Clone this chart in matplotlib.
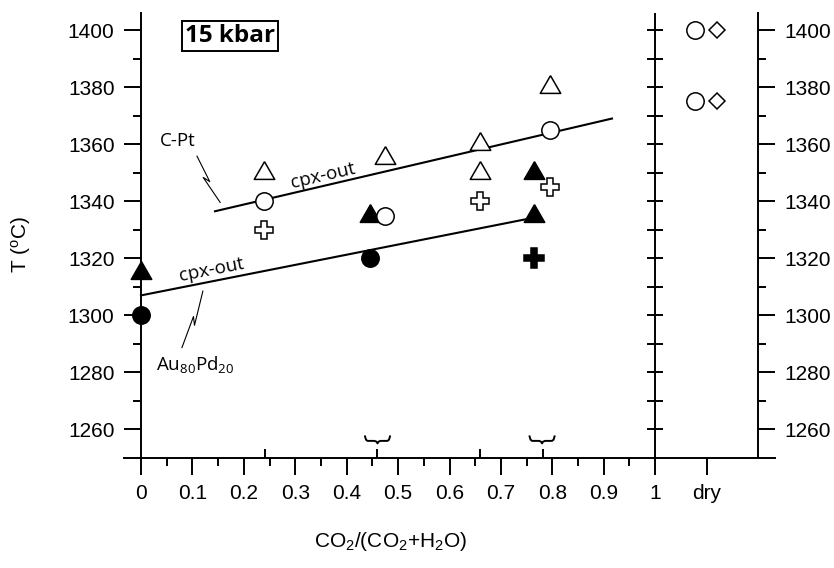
import matplotlib.pyplot as plt
import numpy as np

plt.rcParams['font.family'] = ['Liberation Sans', 'DejaVu Sans']
plt.rcParams['mathtext.default'] = 'regular'

# experimental runs, CO2/(CO2+H2O) vs T (C)
open_tri_x = [0.24, 0.475, 0.66, 0.66, 0.795]
open_tri_y = [1350, 1355, 1360, 1350, 1380]
open_circ_x = [0.24, 0.475, 0.795]
open_circ_y = [1340, 1335, 1365]
fill_tri_x = [0.0, 0.445, 0.765, 0.765]
fill_tri_y = [1315, 1335, 1350, 1335]
fill_circ_x = [0.0, 0.445]
fill_circ_y = [1300, 1320]
open_cross_x = [0.24, 0.66, 0.795]
open_cross_y = [1330, 1340, 1345]
fill_cross_x = [0.765]
fill_cross_y = [1320]
dry_circ_x = [1.078, 1.078]
dry_circ_y = [1400, 1375]
dry_diam_x = [1.121, 1.121]
dry_diam_y = [1400, 1375]

# cpx-out boundaries
cpt_x = [0.144, 0.916]
cpt_y = [1336.5, 1369]
aupd_x = [0.0, 0.757]
aupd_y = [1307, 1334]

# starting compositions marked on the x axis
comp_x = [0.241, 0.459, 0.66, 0.782]
brace_x = [0.46, 0.78]

xticks = [0, 0.1, 0.2, 0.3, 0.4, 0.5, 0.6, 0.7, 0.8, 0.9, 1.0, 1.1]
xlabels = ['0', '0.1', '0.2', '0.3', '0.4', '0.5', '0.6', '0.7', '0.8', '0.9', '1', 'dry']
yticks = [1260, 1280, 1300, 1320, 1340, 1360, 1380, 1400]

fig = plt.figure(figsize=(8.34, 5.68), dpi=100)
ax = fig.add_axes([124/834, 110/568, 651/834, 445/568])
ax.set_xlim(-0.033, 1.233)
ax.set_ylim(1250, 1406)

ax.spines['top'].set_visible(False)
ax.spines['left'].set_position(('data', 0))
ax.spines['right'].set_position(('data', 1.2))
for s in ax.spines.values():
    s.set_linewidth(1.4)

ax.set_xticks(xticks)
ax.set_xticklabels(xlabels)
ax.set_xticks(np.arange(0.05, 1.0, 0.1), minor=True)
ax.set_yticks(yticks)
ax.set_yticks(np.arange(1270, 1400, 20), minor=True)
ax.yaxis.set_ticks_position('both')
ax.tick_params(axis='y', which='both', labelright=True)
ax.tick_params(which='major', direction='out', length=12, width=1.4, labelsize=15, pad=7)
ax.tick_params(which='minor', direction='out', length=6, width=1.4)

# divider at x = 1 with crossing ticks
ax.axvline(1.0, color='k', lw=1.4)
ax.plot([1.0] * 15, np.arange(1260, 1401, 10), ls='none', marker='_', ms=11.5,
        mew=1.4, color='k', clip_on=False)

# composition ticks
ax.vlines(comp_x, 1250, 1253.2, color='k', lw=1.4)

# braces over the paired compositions (shape in pixels)
brace_dx = np.array([-12.5, -11.5, -10, -3, -1, 0, 1, 3, 10, 11.5, 12.5])
brace_dy = np.array([4.5, 1.2, 0, 0, -0.8, -2.5, -0.8, 0, 0, 1.2, 4.5])
for bx in brace_x:
    c = ax.transData.transform((bx, 1256.0))
    pts = ax.transData.inverted().transform(np.column_stack([c[0] + brace_dx, c[1] + brace_dy]))
    ax.plot(pts[:, 0], pts[:, 1], color='k', lw=1.4, solid_joinstyle='round')

# boundary lines
ax.plot(cpt_x, cpt_y, color='k', lw=1.5)
ax.plot(aupd_x, aupd_y, color='k', lw=1.5)

# equilateral triangle marker
tri = [(0, 1.0), (-0.866, -0.5), (0.866, -0.5), (0, 1.0)]
mk = dict(ls='none', color='k', mew=1.1, clip_on=False, zorder=5)
ax.plot(open_tri_x, open_tri_y, marker=tri, ms=17, mfc='white', **mk)
ax.plot(fill_tri_x, fill_tri_y, marker=tri, ms=17, mfc='k', **mk)
ax.plot(open_circ_x, open_circ_y, marker='o', ms=12.5, mfc='white', **mk)
ax.plot(fill_circ_x, fill_circ_y, marker='o', ms=12.5, mfc='k', **mk)
ax.plot(open_cross_x, open_cross_y, marker='P', ms=13.5, mfc='white', **mk)
ax.plot(fill_cross_x, fill_cross_y, marker='P', ms=14, mfc='k', **mk)
ax.plot(dry_circ_x, dry_circ_y, marker='o', ms=12.5, mfc='white', **mk)
ax.plot(dry_diam_x, dry_diam_y, marker='D', ms=8, mfc='white', **mk)


def leader(x0, y0, x1, y1, jog=4.0):
    p0 = ax.transData.transform((x0, y0))
    p1 = ax.transData.transform((x1, y1))
    d = p1 - p0
    n = np.array([-d[1], d[0]]) / np.hypot(*d)
    m1 = p0 + 0.55 * d
    m2 = p0 + 0.42 * d - n * jog
    pts = ax.transData.inverted().transform(np.array([p0, m1, m2, p1]))
    ax.plot(pts[:, 0], pts[:, 1], color='k', lw=0.8)


leader(0.109, 1355.8, 0.154, 1339.6)
leader(0.0797, 1288.7, 0.1204, 1308.5)

ann = dict(family='Open Sans', fontsize=13.5, ha='center', va='center')
ax.text(0.072, 1361, 'C-Pt', **ann)
ax.text(0.105, 1282.8, 'Au$_{80}$Pd$_{20}$', **ann)
ax.text(0.354, 1348.8, 'cpx-out', rotation=13, rotation_mode='anchor', **ann)
ax.text(0.138, 1316.1, 'cpx-out', rotation=11, rotation_mode='anchor', **ann)
ax.text(0.174, 1397.9, '15 kbar', family='Open Sans', fontweight='bold', fontsize=17.5,
        ha='center', va='center',
        bbox=dict(boxstyle='square,pad=0.12', fc='white', ec='k', lw=1.4))

ax.set_xlabel('CO$_2$/(CO$_2$+H$_2$O)', fontsize=15)
ax.xaxis.set_label_coords(0.409, -0.162)
ax.set_ylabel('T ($^o$C)', fontsize=15)
ax.yaxis.set_label_coords(-0.14, 0.479)

fig.savefig('out.png', dpi=100)
